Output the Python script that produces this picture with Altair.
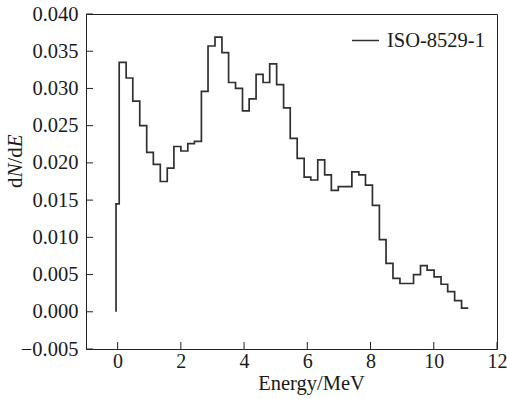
import altair as alt
import pandas as pd

# Energy bin edges (MeV) and dN/dE per bin
energy_edges = [-0.05, 0.05, 0.27, 0.48, 0.70, 0.92, 1.13, 1.35, 1.57, 1.78, 2.00,
                2.22, 2.43, 2.65, 2.86, 3.08, 3.30, 3.51, 3.73, 3.95, 4.16,
                4.38, 4.60, 4.81, 5.03, 5.25, 5.46, 5.68, 5.90, 6.11, 6.33,
                6.55, 6.76, 6.98, 7.19, 7.41, 7.63, 7.84, 8.06, 8.28, 8.49,
                8.71, 8.93, 9.14, 9.36, 9.58, 9.79, 10.01, 10.23, 10.44, 10.66,
                10.88, 11.09]
dnde = [0.0145, 0.0335, 0.0314, 0.0283, 0.0250, 0.0214, 0.0198, 0.0175, 0.0193, 0.0222,
        0.0216, 0.0226, 0.0229, 0.0296, 0.0357, 0.0369, 0.0348, 0.0308, 0.0300, 0.0270,
        0.0286, 0.0319, 0.0308, 0.0333, 0.0305, 0.0274, 0.0233, 0.0206, 0.0181, 0.0177,
        0.0204, 0.0184, 0.0163, 0.0168, 0.0168, 0.0188, 0.0184, 0.0170, 0.0143, 0.0097,
        0.0065, 0.0045, 0.0038, 0.0038, 0.0050, 0.0062, 0.0056, 0.0047, 0.0037, 0.0027,
        0.0015, 0.0005]
x_ticks = [0, 2, 4, 6, 8, 10, 12]
y_ticks = [-0.005, 0.0, 0.005, 0.010, 0.015, 0.020, 0.025, 0.030, 0.035, 0.040]
series_name = "ISO-8529-1"

rows = [{"i": 0, "E": energy_edges[0], "v": 0.0}]
for k, v in enumerate(dnde):
    rows.append({"i": k + 1, "E": energy_edges[k], "v": v})
rows.append({"i": len(dnde) + 1, "E": energy_edges[-1], "v": dnde[-1]})
df = pd.DataFrame(rows)
df["s"] = series_name

W, H = 411, 335
FONT = "Liberation Serif"
TXT = "#1a1a1a"
FS = 20.5
xs = alt.Scale(domain=[-1, 12], nice=False, zero=False)
ys = alt.Scale(domain=[-0.005, 0.040], nice=False, zero=False)

x_axis = alt.Axis(
    values=x_ticks, format="d", title="Energy/MeV", grid=False, domain=False,
    ticks=False, tickSize=0, labelPadding=2, labelFont=FONT, labelFontSize=20,
    labelColor=TXT, titleFont=FONT, titleFontSize=FS, titleFontWeight="normal",
    titleColor=TXT, titleX=225, titleY=40, titleBaseline="alphabetic",
    labelFlush=False)
y_axis = alt.Axis(
    values=y_ticks, format=".3f", title="", grid=False, domain=False,
    ticks=False, tickSize=0, labelPadding=8, labelFont=FONT, labelFontSize=FS,
    labelColor=TXT, labelFlush=False)

line = alt.Chart(df).mark_line(interpolate="step-after", strokeWidth=1.7).encode(
    x=alt.X("E:Q", scale=xs, axis=x_axis),
    y=alt.Y("v:Q", scale=ys, axis=y_axis),
    color=alt.Color("s:N", scale=alt.Scale(range=["#303030"]), legend=alt.Legend(
        orient="top-right", title=None, labelFont=FONT, labelFontSize=FS,
        labelColor=TXT, symbolType="stroke", symbolStrokeWidth=1.5,
        symbolSize=729, offset=12, labelOffset=7)),
    order=alt.Order("i:Q"),
)

xt = alt.Chart(pd.DataFrame({"t": x_ticks})).mark_rule(color="#222", strokeWidth=1).encode(
    x=alt.X("t:Q", scale=xs, axis=x_axis), y=alt.value(H), y2=alt.value(H - 7))
yt = alt.Chart(pd.DataFrame({"t": y_ticks})).mark_rule(color="#222", strokeWidth=1).encode(
    y=alt.Y("t:Q", scale=ys, axis=y_axis), x=alt.value(0), x2=alt.value(7))

one = pd.DataFrame({"a": [0]})
def piece(txt, ypos, style):
    return alt.Chart(one).mark_text(
        font=FONT, fontSize=21, fontStyle=style, angle=270, align="left",
        baseline="middle", color=TXT).encode(
        x=alt.value(-70), y=alt.value(ypos), text=alt.value(txt))

ytitle = [piece("d", 174, "normal"), piece("N", 163.5, "italic"),
          piece("/d", 149.5, "normal"), piece("E", 133.2, "italic")]

chart = alt.layer(line, xt, yt, *ytitle).properties(
    width=W, height=H,
    autosize=alt.AutoSizeParams(type="none"),
    padding={"left": 86, "top": 14, "right": 10, "bottom": 50},
    background="white",
).configure_view(stroke="#222", strokeWidth=1)

chart.save("out.html", embed_options={"renderer": "svg", "actions": False})
